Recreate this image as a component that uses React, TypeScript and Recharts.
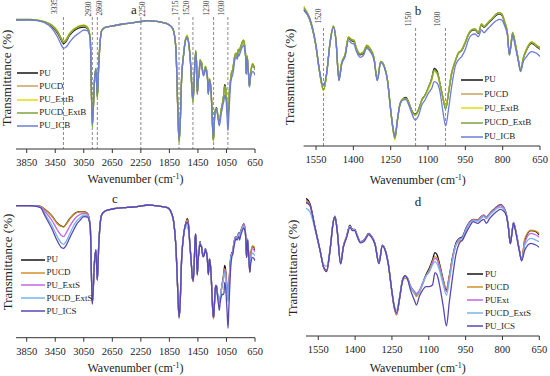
// FTIR spectra, four panels (a/b: bark extracts, c/d: seed extracts)
import React from "react";
import { LineChart, Line, XAxis, YAxis, Legend, ReferenceLine } from "recharts";

const SERIF = "'Liberation Serif', 'DejaVu Serif', serif";

// ---- panels a / b (transmittance, arbitrary units) ----
const wnHighB = [
  4000, 3800, 3700, 3600, 3500, 3420, 3360, 3335, 3300, 3250,
  3200, 3150, 3100, 3050, 3000, 2960, 2930, 2900, 2880, 2860,
  2840, 2800, 2750, 2650, 2500, 2350, 2250, 2150, 2050, 1950,
  1850, 1800, 1760, 1730, 1715, 1700, 1680, 1650, 1620,
];
const wnFingerB = [
  1600, 1575, 1550, 1537, 1520, 1507, 1494, 1480, 1470, 1458,
  1447, 1433, 1420, 1407, 1397, 1389, 1373, 1360, 1346, 1333,
  1317, 1304, 1290, 1273, 1263, 1250, 1239, 1233, 1223, 1212,
  1199, 1188, 1179, 1166, 1152, 1139, 1125, 1112, 1099, 1085,
  1075, 1063, 1052, 1041, 1029, 1018, 1005, 991, 978, 965,
  951, 938, 925, 911, 898, 885, 875, 864, 851, 838,
  824, 813, 804, 791, 781, 773, 766, 760, 750, 737,
  728, 717, 704, 684, 664, 650,
];

const puHighB = [
  129.3, 129.3, 128.7, 127.0, 123.0, 116.0, 108.0, 105.3, 107.3, 113.5,
  117.5, 120.0, 121.5, 122.0, 120.5, 111.7, 23.3, 68.3, 80.0, 51.7,
  85.0, 118.3, 121.7, 123.0, 125.0, 126.3, 127.5, 128.3, 127.7, 126.7,
  124.0, 120.0, 101.7, 35.0, 8.3, 21.7, 68.3, 95.0, 110.0,
];
const pucdHighB = [
  129.3, 129.3, 128.7, 127.0, 123.5, 117.0, 109.0, 106.3, 108.3, 114.5,
  118.5, 121.0, 122.3, 122.8, 121.0, 111.7, 22.5, 68.3, 80.0, 51.7,
  85.0, 118.3, 121.7, 123.0, 125.0, 126.3, 127.5, 128.3, 127.7, 126.7,
  124.0, 120.0, 101.7, 35.0, 7.5, 21.7, 68.3, 95.0, 110.0,
];
const extHighB = [
  129.6, 129.6, 129.0, 127.5, 124.3, 118.3, 110.5, 107.7, 109.7, 115.5,
  119.5, 122.0, 123.5, 124.0, 122.0, 112.0, 21.7, 68.0, 80.0, 51.0,
  85.0, 118.3, 121.7, 123.0, 125.0, 126.3, 127.5, 128.3, 127.7, 126.7,
  124.0, 120.0, 101.7, 34.0, 6.7, 21.0, 68.3, 95.5, 111.0,
];
const cdExtHighB = [
  129.5, 129.5, 128.9, 127.3, 124.0, 117.8, 110.0, 107.0, 109.0, 115.0,
  119.0, 121.5, 123.0, 123.5, 121.7, 111.8, 22.0, 68.2, 80.0, 51.3,
  85.0, 118.3, 121.7, 123.0, 125.0, 126.3, 127.5, 128.3, 127.7, 126.7,
  124.0, 120.0, 101.7, 34.5, 7.0, 21.3, 68.3, 95.3, 110.7,
];
const icbHighB = [
  129.0, 129.0, 128.4, 126.3, 121.0, 112.3, 103.3, 100.7, 101.7, 106.7,
  111.0, 114.3, 116.7, 119.0, 118.3, 110.5, 25.0, 69.0, 80.5, 53.3,
  85.0, 118.0, 121.5, 123.0, 125.0, 126.3, 127.5, 128.3, 127.7, 126.7,
  124.0, 120.0, 101.7, 36.0, 9.0, 22.3, 68.3, 94.5, 109.5,
];

const puFingerB = [
  111.0, 103.0, 81.7, 63.1, 47.2, 60.5, 84.4, 97.7, 87.0, 55.1,
  68.4, 75.1, 88.4, 86.5, 85.7, 80.4, 75.1, 76.4, 81.7, 79.6,
  72.4, 55.1, 69.8, 64.4, 55.1, 31.2, 14.0, 9.4, 23.3, 36.5,
  40.3, 41.3, 37.9, 31.2, 27.8, 31.2, 39.2, 43.2, 48.5, 56.5,
  64.4, 61.8, 52.5, 41.9, 32.6, 44.5, 60.5, 69.8, 76.4, 78.5,
  84.4, 91.0, 94.5, 95.0, 92.4, 99.0, 97.1, 99.0, 101.7, 104.3,
  107.0, 107.8, 107.0, 100.3, 92.4, 75.1, 84.4, 92.4, 84.4, 71.1,
  62.6, 72.4, 79.0, 84.4, 81.7, 79.6,
];
const pucdFingerB = [
  112.3, 103.3, 81.7, 63.1, 47.0, 60.5, 84.6, 98.0, 87.3, 56.0,
  68.8, 75.6, 89.0, 87.0, 86.3, 80.9, 75.7, 77.0, 82.3, 80.0,
  72.6, 55.3, 69.8, 64.4, 55.1, 31.0, 13.5, 8.4, 23.0, 36.3,
  40.3, 40.5, 37.5, 30.8, 27.2, 30.8, 39.0, 43.0, 48.8, 56.0,
  62.6, 60.8, 52.0, 41.9, 32.4, 44.5, 60.5, 69.8, 76.4, 78.5,
  84.6, 91.3, 94.8, 95.4, 92.8, 99.4, 97.5, 99.5, 102.2, 104.8,
  107.6, 108.4, 107.6, 100.8, 92.6, 75.1, 84.6, 92.6, 84.6, 71.1,
  62.6, 72.6, 79.4, 84.9, 82.2, 80.1,
];
const extFingerB = [
  114.2, 104.0, 82.0, 63.1, 46.6, 60.5, 85.0, 98.5, 87.6, 56.5,
  69.0, 76.0, 89.7, 87.6, 87.0, 81.5, 76.4, 77.6, 83.1, 80.6,
  73.0, 55.6, 70.0, 64.6, 55.1, 30.6, 13.0, 7.3, 22.5, 36.0,
  40.0, 40.5, 37.3, 30.5, 26.7, 30.5, 38.8, 42.7, 47.2, 54.6,
  61.8, 59.7, 51.2, 41.9, 33.9, 45.5, 61.0, 70.3, 77.0, 79.2,
  85.2, 91.8, 95.3, 96.0, 93.3, 100.0, 98.0, 100.0, 102.7, 105.3,
  108.0, 108.8, 108.0, 101.2, 93.0, 75.4, 85.0, 93.2, 85.2, 71.6,
  63.0, 73.2, 80.0, 85.6, 83.0, 81.0,
];
const cdExtFingerB = [
  113.1, 103.6, 81.8, 63.1, 47.2, 60.5, 84.8, 98.3, 87.4, 56.3,
  68.8, 75.8, 89.3, 87.3, 86.6, 81.2, 76.0, 77.3, 82.7, 80.3,
  72.8, 55.4, 69.9, 64.5, 55.1, 30.8, 13.4, 8.6, 22.8, 36.2,
  40.2, 40.5, 37.5, 30.8, 27.2, 30.8, 39.0, 43.0, 49.3, 55.7,
  63.1, 60.5, 52.0, 41.9, 31.8, 44.2, 60.6, 70.0, 76.8, 79.0,
  85.0, 91.6, 95.1, 95.8, 93.1, 99.8, 97.8, 99.8, 102.5, 105.1,
  108.0, 108.8, 108.0, 101.0, 92.8, 75.3, 84.8, 93.0, 85.0, 71.4,
  62.8, 73.0, 79.8, 85.3, 82.7, 80.7,
];
const icbFingerB = [
  111.0, 104.3, 82.5, 64.0, 50.4, 61.5, 84.0, 97.0, 86.5, 54.6,
  67.5, 74.0, 86.5, 84.4, 83.6, 78.6, 73.2, 74.6, 80.4, 78.0,
  71.0, 54.4, 69.0, 63.5, 54.6, 31.5, 15.0, 10.0, 23.5, 36.0,
  39.2, 39.5, 36.0, 29.0, 23.3, 26.4, 35.2, 39.2, 44.5, 48.5,
  53.8, 52.5, 45.8, 31.2, 18.5, 31.2, 49.8, 65.8, 71.1, 73.8,
  79.0, 87.0, 91.0, 91.8, 89.7, 95.0, 92.9, 95.0, 97.7, 100.3,
  102.5, 103.5, 103.0, 97.7, 91.0, 75.1, 83.1, 91.0, 82.3, 69.8,
  61.8, 69.8, 73.8, 77.7, 76.4, 73.8,
];

// ---- panels c / d ----
const wnHighS = [
  4000, 3800, 3700, 3650, 3600, 3500, 3420, 3360, 3335, 3300,
  3250, 3200, 3150, 3100, 3050, 3000, 2960, 2930, 2900, 2880,
  2860, 2840, 2800, 2750, 2650, 2500, 2350, 2250, 2150, 2050,
  1950, 1880, 1850, 1820, 1790, 1760, 1730, 1715, 1700, 1680,
  1650, 1620,
];
const wnFingerS = [
  1600, 1584, 1564, 1543, 1527, 1516, 1502, 1489, 1482, 1473,
  1459, 1448, 1435, 1421, 1411, 1401, 1392, 1378, 1367, 1356,
  1346, 1333, 1319, 1303, 1289, 1275, 1265, 1251, 1241, 1231,
  1220, 1207, 1197, 1188, 1174, 1159, 1150, 1139, 1125, 1112,
  1098, 1085, 1075, 1066, 1055, 1041, 1028, 1017, 1003, 990,
  976, 963, 949, 933, 919, 901, 887, 876, 866, 852,
  835, 819, 808, 797, 785, 776, 768, 761, 755, 745,
  731, 722, 709, 684, 664, 650,
];

const puHighS = [
  132.0, 132.0, 131.7, 131.0, 128.7, 122.0, 114.4, 111.5, 111.0, 113.4,
  118.7, 122.7, 125.4, 126.0, 126.0, 124.4, 112.7, 34.4, 76.0, 87.7,
  57.7, 92.7, 122.7, 126.7, 128.7, 130.0, 130.7, 131.7, 132.7, 132.0,
  131.0, 130.0, 128.7, 124.4, 116.0, 92.7, 42.7, 20.0, 32.7, 76.0,
  102.7, 114.4,
];
const pucdHighS = [
  132.0, 132.0, 131.7, 131.0, 128.5, 121.7, 114.0, 111.0, 110.5, 113.0,
  118.4, 122.5, 125.2, 125.8, 125.8, 124.2, 112.7, 34.0, 76.0, 87.7,
  57.7, 92.7, 122.7, 126.7, 128.7, 130.0, 130.7, 131.7, 132.7, 132.0,
  131.0, 130.0, 128.7, 124.4, 116.0, 92.7, 42.0, 19.0, 32.0, 76.0,
  102.7, 114.4,
];
const extHighS = [
  132.0, 132.0, 131.5, 130.5, 126.7, 117.7, 107.7, 102.0, 101.0, 104.4,
  111.0, 116.7, 121.0, 123.4, 124.4, 123.4, 112.5, 34.0, 76.0, 87.5,
  57.5, 92.7, 122.7, 126.7, 128.7, 130.0, 130.7, 131.7, 132.7, 132.0,
  131.0, 130.0, 128.7, 124.4, 116.0, 92.7, 42.7, 20.5, 32.7, 76.0,
  102.7, 114.0,
];
const cdExtHighS = [
  132.0, 132.0, 131.3, 130.0, 124.4, 112.7, 101.0, 94.4, 93.4, 96.0,
  103.4, 111.0, 116.7, 120.0, 122.7, 122.0, 112.0, 34.0, 76.0, 87.5,
  57.5, 92.7, 122.7, 126.7, 128.7, 130.0, 130.7, 131.7, 132.7, 132.0,
  131.0, 130.0, 128.7, 124.4, 116.0, 92.7, 42.7, 20.5, 32.7, 76.0,
  102.7, 113.5,
];
const icsHighS = [
  132.0, 132.0, 131.0, 129.7, 122.7, 109.4, 96.7, 90.0, 89.4, 92.0,
  99.4, 106.7, 113.4, 117.7, 121.0, 120.7, 111.5, 33.4, 76.0, 87.7,
  57.7, 92.7, 122.7, 126.7, 128.7, 130.0, 130.7, 131.7, 132.7, 132.0,
  131.0, 130.0, 128.7, 124.4, 116.0, 92.7, 42.7, 20.5, 32.7, 76.0,
  102.7, 114.0,
];

const puFingerS = [
  119.1, 114.8, 94.8, 74.7, 59.0, 56.1, 74.7, 99.1, 103.9, 91.9,
  63.2, 77.6, 86.2, 96.2, 92.5, 92.5, 87.6, 81.9, 82.7, 85.6,
  89.0, 86.7, 80.4, 63.8, 79.0, 73.3, 63.2, 40.3, 26.0, 19.4,
  31.7, 48.9, 52.4, 51.2, 43.2, 38.9, 36.0, 38.9, 46.1, 53.2,
  59.0, 66.1, 72.4, 70.4, 61.8, 48.9, 40.3, 51.8, 69.0, 80.4,
  84.7, 86.2, 93.3, 99.1, 101.1, 100.5, 103.4, 104.8, 102.8, 106.2,
  109.7, 112.5, 113.7, 112.0, 106.2, 94.8, 80.4, 90.5, 98.5, 90.5,
  74.7, 66.1, 83.3, 91.3, 90.5, 87.6,
];
const pucdFingerS = [
  117.7, 113.5, 94.5, 74.7, 59.0, 56.7, 74.7, 99.0, 103.7, 91.7,
  63.2, 77.6, 86.0, 95.3, 92.0, 92.0, 87.2, 81.6, 82.4, 85.3,
  88.6, 86.4, 80.0, 62.8, 78.6, 72.6, 62.5, 39.5, 25.0, 18.8,
  31.0, 48.0, 50.4, 49.8, 42.0, 37.5, 34.6, 37.8, 45.2, 52.4,
  57.5, 64.7, 69.0, 67.5, 60.4, 48.3, 41.8, 51.2, 67.8, 78.5,
  82.5, 83.3, 91.5, 98.5, 100.8, 100.3, 103.0, 104.5, 102.5, 105.8,
  109.2, 112.0, 113.2, 111.6, 106.0, 94.8, 80.4, 90.5, 98.5, 90.5,
  74.7, 66.1, 84.7, 91.9, 91.0, 89.0,
];
const extFingerS = [
  116.3, 113.0, 94.5, 74.7, 59.0, 57.0, 74.7, 99.0, 103.6, 91.7,
  63.2, 77.6, 86.0, 95.3, 92.0, 92.0, 87.2, 81.6, 82.4, 85.3,
  88.6, 86.4, 80.0, 63.3, 78.8, 73.0, 63.0, 40.0, 25.8, 19.6,
  31.7, 48.6, 52.0, 51.0, 43.0, 38.8, 37.5, 39.5, 46.0, 52.4,
  56.1, 63.8, 67.5, 66.1, 59.0, 46.6, 38.9, 49.5, 67.5, 79.5,
  84.0, 85.5, 92.8, 98.6, 100.6, 100.0, 102.8, 104.2, 102.2, 105.6,
  109.0, 111.8, 113.0, 111.4, 105.8, 94.6, 80.3, 90.2, 98.3, 90.0,
  74.0, 65.5, 81.0, 89.0, 87.6, 85.6,
];
const cdExtFingerS = [
  110.5, 107.7, 93.0, 74.5, 61.8, 60.9, 75.5, 98.8, 103.2, 91.4,
  63.5, 77.2, 85.6, 95.0, 91.8, 91.8, 86.8, 81.2, 82.0, 85.0,
  88.2, 86.0, 79.6, 63.5, 78.5, 72.8, 63.0, 41.0, 27.5, 23.1,
  33.0, 49.0, 51.8, 50.8, 42.8, 38.0, 36.0, 38.5, 45.5, 52.0,
  56.1, 61.8, 64.7, 62.7, 56.1, 44.6, 36.0, 47.5, 66.1, 78.5,
  83.5, 85.0, 92.0, 97.8, 100.0, 99.5, 102.0, 103.5, 101.5, 104.8,
  108.2, 111.0, 111.4, 110.5, 105.5, 94.5, 81.0, 90.0, 98.0, 89.8,
  74.0, 65.8, 79.0, 84.7, 83.3, 81.9,
];
const icsFingerS = [
  115.4, 113.0, 94.5, 74.7, 59.5, 57.5, 75.0, 98.5, 103.2, 91.0,
  62.5, 77.0, 85.2, 94.2, 91.3, 91.3, 86.5, 80.8, 81.6, 84.5,
  87.9, 85.5, 79.4, 63.0, 78.2, 72.5, 62.5, 40.5, 26.5, 20.8,
  32.0, 48.2, 52.4, 50.5, 40.0, 31.7, 27.4, 34.6, 40.3, 43.2,
  43.2, 44.6, 55.2, 53.2, 43.2, 26.0, 9.4, 28.9, 51.8, 70.4,
  80.4, 83.3, 89.0, 95.3, 99.1, 97.6, 99.9, 101.1, 97.6, 101.9,
  105.7, 108.5, 109.7, 108.5, 104.8, 94.2, 80.0, 89.5, 97.6, 89.0,
  73.5, 65.5, 74.7, 80.4, 79.0, 77.0,
];

const namesB = ["PU", "PUCD", "PU_ExtB", "PUCD_ExtB", "PU_ICB"];
const colorsB = ["#151515", "#c9a062", "#e2dc14", "#7ba53e", "#6c7dd6"];
const namesS = ["PU", "PUCD", "PU_ExtS", "PUCD_ExtS", "PU_ICS"];
const namesD = ["PU", "PUCD", "PUExt", "PUCD_ExtS", "PU_ICS"];
const colorsS = ["#151515", "#d0912c", "#c266e6", "#76b4ea", "#5a47b2"];

const ticksWide = [3850, 3450, 3050, 2650, 2250, 1850, 1450, 1050, 650];
const ticksNarrow = [1550, 1400, 1250, 1100, 950, 800, 650];
const marksA = [3335, 2930, 2860, 2250, 1715, 1520, 1230, 1030];
const marksB = [1520, 1150, 1030];

// where each band label sits next to its dashed line (px)
const markShiftA = [6.5, 1.3, -4.8, -4, 1.4, 4.2, 4.5, 3.6];
const markLiftA = [3, 0.5, 1.5, 0.5, 1.5, 1.5, 1.5, 1.5];
const markShiftB = [2.8, 4.6, 5.4];
const markLiftB = [4.5, 1.5, 1.5];

function buildRows(wn: number[], series: number[][]) {
  return wn.map((w, i) => {
    const row: any = { wn: w };
    series.forEach((s, k) => (row["s" + k] = s[i]));
    return row;
  });
}

const rowsB = buildRows(
  [...wnHighB, ...wnFingerB],
  [
    [...puHighB, ...puFingerB],
    [...pucdHighB, ...pucdFingerB],
    [...extHighB, ...extFingerB],
    [...cdExtHighB, ...cdExtFingerB],
    [...icbHighB, ...icbFingerB],
  ]
);
const rowsS = buildRows(
  [...wnHighS, ...wnFingerS],
  [
    [...puHighS, ...puFingerS],
    [...pucdHighS, ...pucdFingerS],
    [...extHighS, ...extFingerS],
    [...cdExtHighS, ...cdExtFingerS],
    [...icsHighS, ...icsFingerS],
  ]
);

function KeyBox({ names, colors, lineW, rowH }: any) {
  return (
    <div style={{ fontFamily: SERIF, fontSize: 9, color: "#222" }}>
      {names.map((n: string, i: number) => (
        <div
          key={n}
          style={{ height: rowH, display: "flex", alignItems: "center", whiteSpace: "nowrap" }}
        >
          <svg width={lineW} height={4} style={{ display: "block" }}>
            <line x1={0} y1={2} x2={lineW} y2={2} stroke={colors[i]} strokeWidth={1.5} />
          </svg>
          <span style={{ marginLeft: 1.5, lineHeight: "9px" }}>{n}</span>
        </div>
      ))}
    </div>
  );
}

function waveTitle(shift: number, lift: number) {
  return (props: any) => {
    const vb = props.viewBox || {};
    const cx = vb.x + vb.width / 2 + shift;
    const y = vb.y + vb.height - lift;
    return (
      <text x={cx} y={y} textAnchor="middle" fontFamily={SERIF} fontSize={12} fill="#222">
        <tspan>Wavenumber (cm</tspan>
        <tspan dy={-4.5} fontSize={8}>-1</tspan>
        <tspan dy={4.5}>)</tspan>
      </text>
    );
  };
}

function markLabel(text: string, dx: number, lift: number) {
  return (props: any) => {
    const vb = props.viewBox || {};
    const x = vb.x - dx;
    const y = vb.y - lift;
    return (
      <text
        x={x}
        y={y}
        transform={`rotate(-90 ${x} ${y})`}
        fontFamily={SERIF}
        fontSize={7.5}
        fill="#333"
      >
        {text}
      </text>
    );
  };
}

function Panel(p: any) {
  const kp = p.legendPos;
  return (
    <div style={{ position: "absolute", left: p.left, top: p.top }}>
      <LineChart width={p.width} height={p.height} data={p.rows} margin={p.margin}>
        <XAxis
          dataKey="wn"
          type="number"
          domain={p.xDomain}
          reversed
          ticks={p.ticks}
          interval={0}
          allowDataOverflow
          height={p.axisH}
          tickSize={4}
          tickMargin={6}
          axisLine={{ stroke: "#333" }}
          tickLine={{ stroke: "#333" }}
          tick={{ fontSize: 10.5, fill: "#222", fontFamily: SERIF }}
          label={{ content: waveTitle(p.titleShift, p.titleLift) }}
        />
        <YAxis hide type="number" domain={p.yDomain} allowDataOverflow />
        {(p.marks || []).map((m: number, j: number) => (
          <ReferenceLine
            key={"m" + m}
            segment={[
              { x: m, y: p.markTop },
              { x: m, y: p.yDomain[0] },
            ]}
            stroke="#8a8a8a"
            strokeDasharray="3 2"
            ifOverflow="visible"
            label={markLabel(String(m), p.markShift[j], p.markLift[j])}
          />
        ))}
        {p.colors.map((c: string, i: number) => (
          <Line
            key={"s" + i}
            type="monotone"
            dataKey={"s" + i}
            name={p.names[i]}
            stroke={c}
            strokeWidth={1.3}
            dot={false}
            activeDot={false}
            isAnimationActive={false}
          />
        ))}
        <Legend
          layout="vertical"
          align="center"
          verticalAlign="middle"
          wrapperStyle={{ left: kp.left, top: kp.top, width: 90 }}
          content={() => (
            <KeyBox names={p.names} colors={p.colors} lineW={kp.lineW} rowH={kp.rowH} />
          )}
        />
      </LineChart>
    </div>
  );
}

export default function App() {
  const rowsBNarrow = rowsB.filter((r) => r.wn <= 1600);
  const rowsSNarrow = rowsS.filter((r) => r.wn <= 1600);
  const yTitle = (x: number, y: number) => (
    <text
      x={x}
      y={y}
      transform={`rotate(-90 ${x} ${y})`}
      textAnchor="middle"
      fontFamily={SERIF}
      fontSize={13}
      fill="#222"
    >
      Transmittance (%)
    </text>
  );
  return (
    <div
      style={{ position: "absolute", left: 0, top: 0, width: 550, height: 376, background: "#fff" }}
    >
      <Panel
        rows={rowsB}
        names={namesB}
        colors={colorsB}
        left={0}
        top={0}
        width={275}
        height={186}
        margin={{ top: 13, right: 20, left: 16, bottom: 0 }}
        axisH={37}
        xDomain={[650, 4000]}
        ticks={ticksWide}
        yDomain={[0, 136]}
        marks={marksA}
        markTop={132}
        markShift={markShiftA}
        markLift={markLiftA}
        legendPos={{ left: 16.7, top: 66.8, lineW: 21, rowH: 13.1 }}
        titleShift={0}
        titleLift={3}
      />
      <Panel
        rows={rowsBNarrow}
        names={namesB}
        colors={colorsB}
        left={275}
        top={0}
        width={275}
        height={186}
        margin={{ top: 2, right: 10, left: 28.6, bottom: 0 }}
        axisH={40}
        xDomain={[650, 1600]}
        ticks={ticksNarrow}
        yDomain={[2.5, 117.3]}
        marks={marksB}
        markTop={96.6}
        markShift={markShiftB}
        markLift={markLiftB}
        legendPos={{ left: 185.7, top: 72.9, lineW: 22, rowH: 14.2 }}
        titleShift={-4}
        titleLift={2}
      />
      <Panel
        rows={rowsS}
        names={namesS}
        colors={colorsS}
        left={0}
        top={186}
        width={275}
        height={190}
        margin={{ top: 9.7, right: 20, left: 16, bottom: 0 }}
        axisH={38.3}
        xDomain={[650, 4000]}
        ticks={ticksWide}
        yDomain={[0, 142]}
        legendPos={{ left: 21, top: 67.2, lineW: 24, rowH: 12.9 }}
        titleShift={0}
        titleLift={4}
      />
      <Panel
        rows={rowsSNarrow}
        names={namesD}
        colors={colorsS}
        left={275}
        top={186}
        width={275}
        height={190}
        margin={{ top: 6, right: 10.7, left: 31, bottom: 0 }}
        axisH={40}
        xDomain={[650, 1600]}
        ticks={ticksNarrow}
        yDomain={[0.77, 124.6]}
        legendPos={{ left: 191.7, top: 81.5, lineW: 16.7, rowH: 13 }}
        titleShift={-5}
        titleLift={4}
      />
      <svg
        width={550}
        height={376}
        style={{ position: "absolute", left: 0, top: 0, pointerEvents: "none" }}
      >
        <g fontFamily={SERIF} fontSize={13} fill="#222" textAnchor="middle">
          <text x={134} y={14}>a</text>
          <text x={418} y={15}>b</text>
          <text x={115} y={203}>c</text>
          <text x={418} y={206}>d</text>
        </g>
        {yTitle(11, 78)}
        {yTitle(293.5, 77)}
        {yTitle(11.5, 262)}
        {yTitle(296.5, 268)}
      </svg>
    </div>
  );
}
